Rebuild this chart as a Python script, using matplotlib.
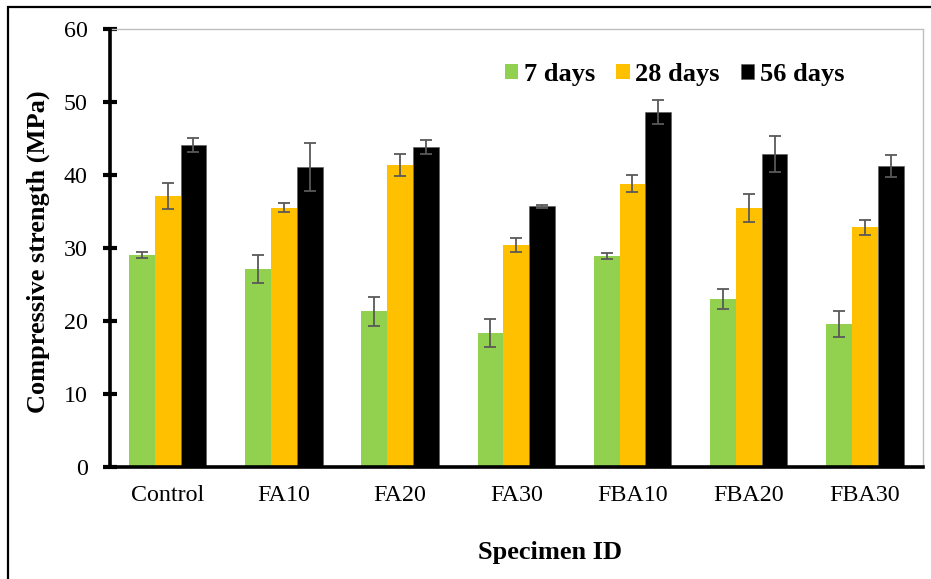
import matplotlib
matplotlib.use("Agg")
import matplotlib.pyplot as plt
import numpy as np
from matplotlib.patches import Rectangle

categories = ["Control", "FA10", "FA20", "FA30", "FBA10", "FBA20", "FBA30"]
series_names = ["7 days", "28 days", "56 days"]
days7 = [29.0, 27.1, 21.3, 18.3, 28.9, 23.0, 19.6]
days7_err = [0.4, 1.9, 2.0, 1.9, 0.4, 1.4, 1.8]
days28 = [37.1, 35.5, 41.3, 30.4, 38.8, 35.5, 32.8]
days28_err = [1.8, 0.6, 1.5, 1.0, 1.2, 1.9, 1.0]
days56 = [44.1, 41.1, 43.8, 35.7, 48.6, 42.9, 41.2]
days56_err = [0.9, 3.3, 1.0, 0.2, 1.6, 2.5, 1.5]
yticks = [0, 10, 20, 30, 40, 50, 60]
colors = ["#92D050", "#FFC000", "#000000"]

plt.rcParams['font.family'] = ['Liberation Serif', 'DejaVu Serif']

W, H = 931, 579
fig = plt.figure(figsize=(W / 100, H / 100), dpi=100)
ax = fig.add_axes([109.5 / W, 1 - 466.7 / H, (923 - 109.5) / W, (466.7 - 29) / H])

# figure border (top and left visible)
fig.patches.append(Rectangle((8 / W, -0.1), 1.2, 1 - 7 / H + 0.1, transform=fig.transFigure,
                             fill=False, edgecolor='black', linewidth=1.6, zorder=0))

x = np.arange(len(categories))
bw = 1 / 4.5
data = [(days7, days7_err), (days28, days28_err), (days56, days56_err)]
ekw = dict(ecolor='#595959', capsize=4.3, elinewidth=1.3, capthick=1.3)
for i, ((vals, errs), c, name) in enumerate(zip(data, colors, series_names)):
    ax.bar(x + (i - 1) * bw, vals, bw, yerr=errs, color=c, label=name,
           error_kw=ekw, zorder=2,
           edgecolor=('#595959' if c == '#000000' else 'none'), linewidth=0.4)

ax.set_xlim(-0.5, len(categories) - 0.5)
ax.set_ylim(0, 60)
ax.set_yticks(yticks)
ax.set_xticks(x)
ax.set_xticklabels(categories)

ax.tick_params(axis='y', direction='inout', length=9.5, width=3.0, labelsize=17.3, pad=11,
               color='black')
ax.tick_params(axis='x', length=0, labelsize=17.3, pad=13)

for s in ['left', 'bottom']:
    ax.spines[s].set_linewidth(2.6)
    ax.spines[s].set_color('black')
    ax.spines[s].set_zorder(3)
for s in ['top', 'right']:
    ax.spines[s].set_linewidth(1.0)
    ax.spines[s].set_color('#BFBFBF')

fig.text(38 / W, 1 - 252 / H, "Compressive strength (MPa)", rotation=90, ha='center', va='center',
         fontsize=19, fontweight='bold')
fig.text(550 / W, 1 - 553 / H, "Specimen ID", ha='center', va='center',
         fontsize=19, fontweight='bold')

leg = ax.legend(loc='center', bbox_to_anchor=(0.6945, 0.897), ncol=3, frameon=False,
                prop=dict(size=19, weight='bold'), handlelength=0.52, handleheight=0.52,
                handletextpad=0.2, columnspacing=0.8, borderpad=0)

fig.savefig("out.png", dpi=100)
